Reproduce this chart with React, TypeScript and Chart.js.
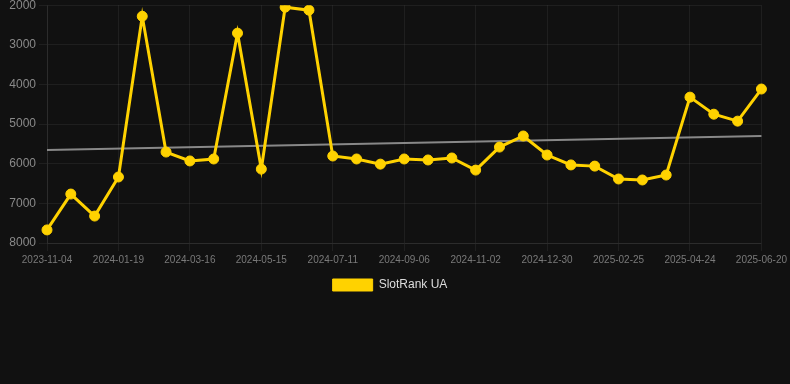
import React, { useEffect, useRef } from "react";
import { Chart, registerables } from "chart.js";

Chart.register(...registerables);

const dateLabels: string[] = [
  "2023-11-04", "2023-11-29", "2023-12-24",
  "2024-01-19", "2024-02-07", "2024-02-26",
  "2024-03-16", "2024-04-05", "2024-04-25",
  "2024-05-15", "2024-06-03", "2024-06-22",
  "2024-07-11", "2024-07-30", "2024-08-18",
  "2024-09-06", "2024-09-25", "2024-10-14",
  "2024-11-02", "2024-11-21", "2024-12-11",
  "2024-12-30", "2025-01-18", "2025-02-06",
  "2025-02-25", "2025-03-16", "2025-04-04",
  "2025-04-24", "2025-05-13", "2025-06-01",
  "2025-06-20",
];

const rankValues: number[] = [
  7670, 6765, 7320,
  6335, 2280, 5705,
  5930, 5880, 2705,
  6135, 2050, 2125,
  5805, 5880, 6010,
  5880, 5905, 5855,
  6160, 5580, 5300,
  5780, 6030, 6060,
  6385, 6410, 6285,
  4320, 4750, 4925,
  4115,
];

const trendStart = 5655;
const trendEnd = 5300;

const yTicks: number[] = [2000, 3000, 4000, 5000, 6000, 7000, 8000];

const seriesName = "SlotRank UA";
const yellow = "#FFD200";

export default function App() {
  const ref = useRef<HTMLCanvasElement | null>(null);

  useEffect(() => {
    document.body.style.margin = "0";
    document.body.style.background = "#111111";
    const trend = dateLabels.map((_, i) =>
      i === 0 ? trendStart : i === dateLabels.length - 1 ? trendEnd : null
    );
    const chart = new Chart(ref.current as HTMLCanvasElement, {
      type: "line",
      data: {
        labels: dateLabels,
        datasets: [
          {
            label: seriesName,
            data: rankValues,
            borderColor: yellow,
            backgroundColor: yellow,
            borderWidth: 3,
            pointRadius: 5,
            pointBorderWidth: 1,
            pointBackgroundColor: yellow,
            pointBorderColor: yellow,
            tension: 0,
            order: 1,
          },
          {
            label: "trend",
            data: trend,
            borderColor: "rgba(150,150,150,0.9)",
            backgroundColor: "rgba(150,150,150,0.9)",
            borderWidth: 2,
            pointRadius: 0,
            spanGaps: true,
            order: 2,
          },
        ],
      },
      options: {
        responsive: false,
        animation: false,
        maintainAspectRatio: false,
        layout: { padding: { left: 0, right: 10, top: 0, bottom: 0 } },
        plugins: {
          legend: {
            position: "bottom",
            labels: {
              color: "#dddddd",
              font: { size: 12 },
              boxWidth: 40,
              boxHeight: 12,
              filter: (item) => item.text === seriesName,
              generateLabels: (ch) =>
                Chart.defaults.plugins.legend.labels
                  .generateLabels(ch)
                  .map((it) => ({ ...it, lineWidth: 1 })),
            },
          },
          tooltip: { enabled: false },
        },
        scales: {
          x: {
            grid: { color: "rgba(255,255,255,0.06)" },
            border: { color: "rgba(255,255,255,0.06)" },
            ticks: {
              color: "#7a7a7a",
              font: { size: 10 },
              maxRotation: 0,
              autoSkip: true,
              maxTicksLimit: 11,
            },
          },
          y: {
            reverse: true,
            min: 2000,
            max: 8000,
            afterBuildTicks: (axis) => {
              axis.ticks = yTicks.map((v) => ({ value: v }));
            },
            afterFit: (axis) => {
              axis.width = 47;
            },
            grid: { color: "rgba(255,255,255,0.06)" },
            border: { color: "rgba(255,255,255,0.06)" },
            ticks: {
              color: "#8a8a8a",
              font: { size: 12 },
              callback: (v) => String(v),
            },
          },
        },
      },
    });
    return () => chart.destroy();
  }, []);

  return (
    <div style={{ position: "fixed", left: 0, top: 0, width: 790, height: 384, background: "#111111", overflow: "hidden" }}>
      <canvas ref={ref} width={790} height={306} style={{ position: "absolute", left: 0, top: -5, width: 790, height: 306 }} />
    </div>
  );
}
